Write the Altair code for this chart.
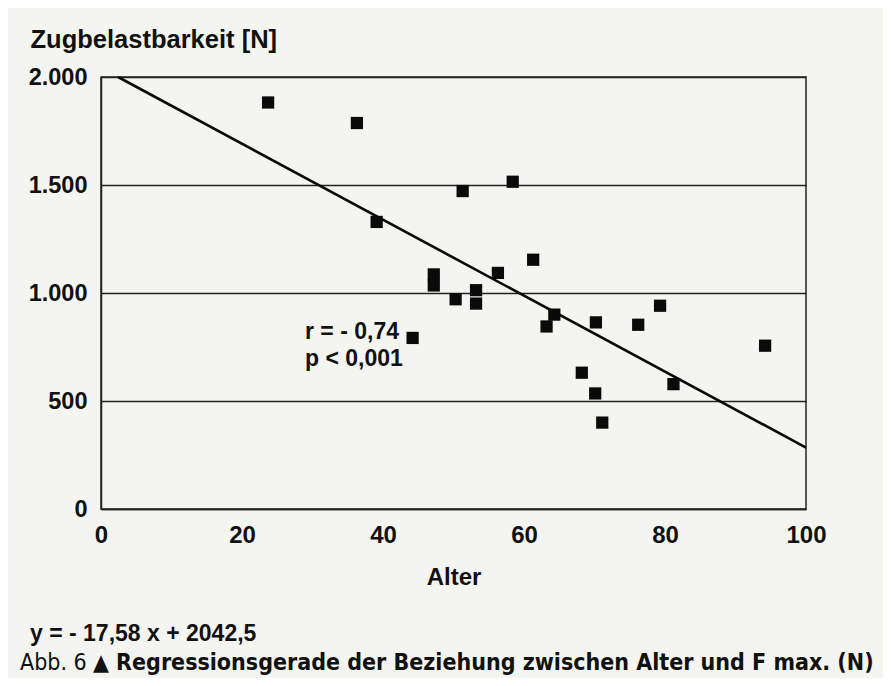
import altair as alt
import pandas as pd

# --- data ---
alter = [23.7, 36.3, 39.1, 51.3, 58.4, 47.2, 47.2, 50.3, 53.2, 53.2, 56.3, 61.3,
         44.2, 63.2, 64.3, 70.2, 76.2, 79.3, 68.2, 70.1, 71.1, 81.2, 94.2]
zugkraft = [1882, 1787, 1329, 1472, 1515, 1086, 1035, 971, 1013, 951, 1093, 1154,
            792, 845, 900, 864, 853, 941, 631, 535, 400, 578, 756]

line_alter = [2.42, 100]
line_kraft = [2000, 284.5]

x_ticks = [0, 20, 40, 60, 80, 100]
y_ticks = [0, 500, 1000, 1500, 2000]

stat_r = ["r = - 0,74"]
stat_p = ["p < 0,001"]
formula_text = ["y = - 17,58 x + 2042,5"]
caption_prefix = ["Abb. 6"]
caption_main = ["\u25B2 Regressionsgerade der Beziehung zwischen Alter und F max. (N)"]

FONT = "Liberation Sans"
CAPFONT = "Liberation Sans Narrow, DejaVu Sans Condensed, DejaVu Sans"
INK = "#111111"

df = pd.DataFrame({"alter": alter, "kraft": zugkraft})
df_line = pd.DataFrame({"alter": line_alter, "kraft": line_kraft})

x_scale = alt.Scale(domain=[0, 100], nice=False, zero=False)
y_scale = alt.Scale(domain=[0, 2000], nice=False, zero=False)

x_axis = alt.Axis(
    values=x_ticks, grid=False, ticks=False, domain=True,
    domainColor="#222", domainWidth=1.5,
    labelFont=FONT, labelFontSize=24, labelFontWeight="bold", labelColor=INK,
    labelPadding=14, labelFlush=False,
    title="Alter", titleFont=FONT, titleFontSize=24, titleFontWeight="bold",
    titleColor=INK, titlePadding=18,
)
y_axis = alt.Axis(
    values=y_ticks, grid=True, gridColor="#222", gridWidth=1.5, gridOpacity=1,
    ticks=False, domain=True, domainColor="#222", domainWidth=1.5,
    labelFont=FONT, labelFontSize=23.5, labelFontWeight="bold", labelColor=INK,
    labelPadding=14, labelFlush=False,
    labelExpr="replace(format(datum.value, ','), ',', '.')",
    title="Zugbelastbarkeit [N]", titleFont=FONT, titleFontSize=25.5,
    titleFontWeight="bold", titleColor=INK, titleAngle=0, titleAlign="left",
    titleBaseline="alphabetic", titleX=-71, titleY=-30,
)

points = alt.Chart(df).mark_square(size=150, color="#0a0a0a", opacity=1).encode(
    x=alt.X("alter:Q", scale=x_scale, axis=x_axis),
    y=alt.Y("kraft:Q", scale=y_scale, axis=y_axis),
)

reg = alt.Chart(df_line).mark_line(color="#0a0a0a", strokeWidth=2.6).encode(
    x=alt.X("alter:Q", scale=x_scale),
    y=alt.Y("kraft:Q", scale=y_scale),
)


def label(lines, px, py, size, weight="bold", font=FONT):
    return alt.Chart(pd.DataFrame({"t": lines})).mark_text(
        font=font, fontSize=size, fontWeight=weight, color=INK, align="left",
        baseline="alphabetic"
    ).encode(text="t:N", x=alt.value(px - 101), y=alt.value(py - 77))


stats_r = label(stat_r, 305, 339, 23)
stats_p = label(stat_p, 305, 366, 23)
formula = label(formula_text, 30, 641, 23)
cap1 = label(caption_prefix, 20, 670, 23, weight="normal", font=CAPFONT)
cap2 = label(caption_main, 93, 670, 23, font=CAPFONT)

chart = alt.layer(points, reg, stats_r, stats_p, formula, cap1, cap2).properties(
    width=705, height=432,
    padding={"left": 93, "top": 69, "right": 77, "bottom": 169},
    autosize=alt.AutoSizeParams(type="none"),
).configure(
    background="#f4f4f1"
).configure_view(
    stroke="#222", strokeWidth=1.5
)

chart.save("out.html", embed_options={"renderer": "svg", "actions": False})
